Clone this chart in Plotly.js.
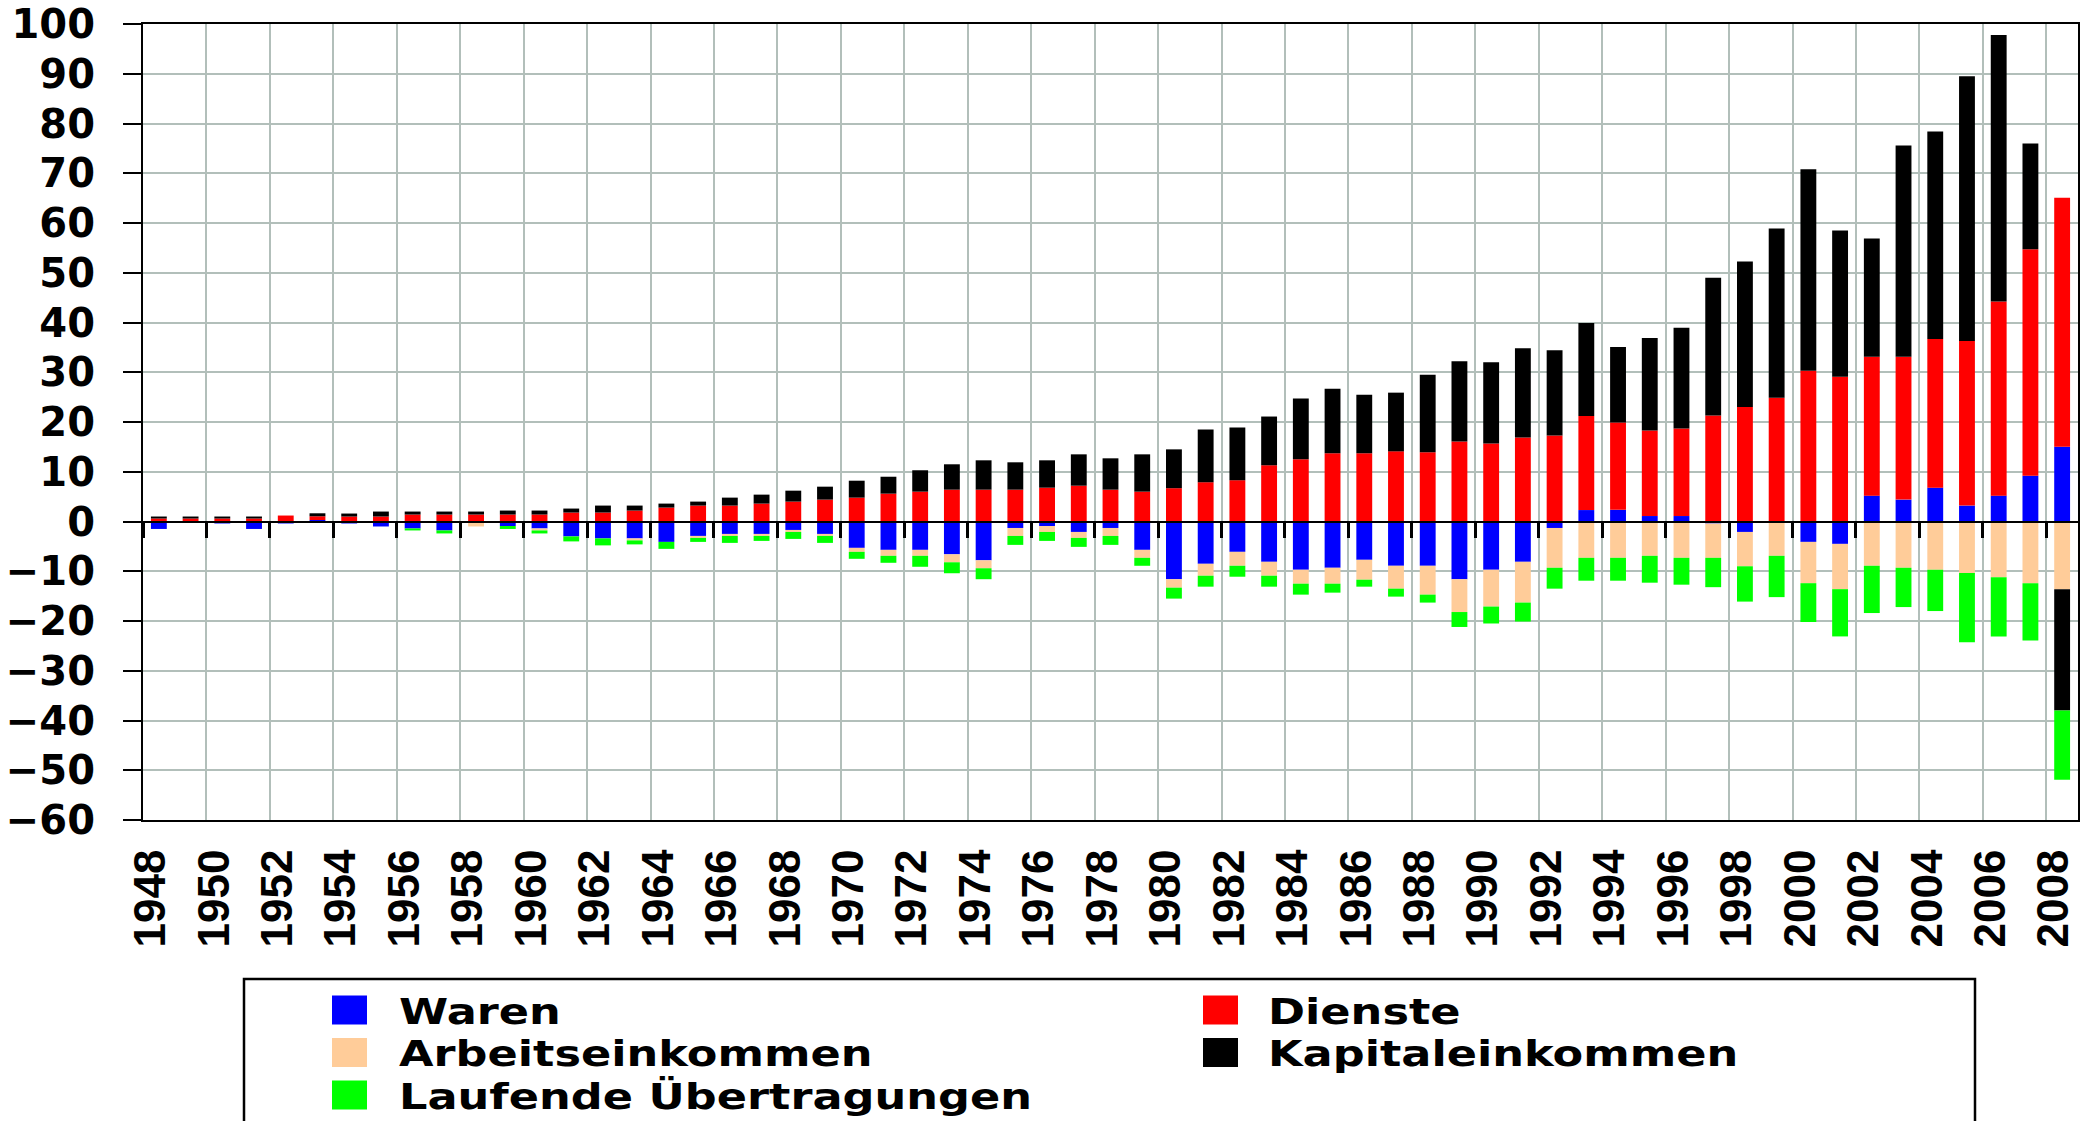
<!DOCTYPE html>
<html>
<head>
<meta charset="utf-8">
<script src="https://cdn.plot.ly/plotly-3.0.1.min.js"></script>
<style>
html,body{margin:0;padding:0;background:#fff;}
text.annotation-text{transform-box:fill-box;transform-origin:center;transform:scaleX(1.24);}
</style>
</head>
<body>
<div id="chart" style="width:2092px;height:1121px;"></div>
<script>
const years = [1948,1949,1950,1951,1952,1953,1954,1955,1956,1957,1958,1959,1960,1961,1962,1963,1964,1965,1966,1967,1968,1969,1970,1971,1972,1973,1974,1975,1976,1977,1978,1979,1980,1981,1982,1983,1984,1985,1986,1987,1988,1989,1990,1991,1992,1993,1994,1995,1996,1997,1998,1999,2000,2001,2002,2003,2004,2005,2006,2007,2008];
const tickYears = [1948,1950,1952,1954,1956,1958,1960,1962,1964,1966,1968,1970,1972,1974,1976,1978,1980,1982,1984,1986,1988,1990,1992,1994,1996,1998,2000,2002,2004,2006,2008];

const waren = [-1.5,0,-0.4,-1.5,-0.4,0.3,-0.4,-1.0,-1.4,-1.8,0,-0.9,-1.4,-3.0,-3.4,-3.4,-4.1,-2.9,-2.5,-2.5,-1.7,-2.5,-5.3,-5.7,-5.7,-6.6,-7.8,-1.3,-0.9,-2.1,-1.3,-5.7,-11.6,-8.5,-6.1,-8.1,-9.7,-9.3,-7.7,-8.9,-8.9,-11.6,-9.7,-8.1,-1.3,2.3,2.35,1.1,1.1,-0.4,-2.1,0,-4.1,-4.5,5.2,4.4,6.8,3.2,5.2,9.2,15.05];
const dienste = [0.6,0.6,0.6,0.6,1.2,0.75,1.0,1.0,1.4,1.4,1.4,1.4,1.4,1.8,1.8,2.2,2.8,3.2,3.2,3.6,4.0,4.4,4.8,5.6,6.0,6.4,6.4,6.4,6.8,7.2,6.4,6.0,6.7,7.9,8.3,11.3,12.5,13.7,13.7,14.1,13.9,16.1,15.7,16.9,17.3,18.9,17.55,17.2,17.6,21.3,23.0,24.85,30.3,29.1,27.9,28.7,29.9,33.1,39.0,45.5,50.05];
const arbeit = [0,0,0,0,0,0,0,0,0,0,-1.0,0,-0.4,0,0,-0.4,0,-0.4,-0.4,-0.4,-0.4,-0.4,-0.8,-1.2,-1.2,-1.6,-1.6,-1.6,-1.2,-1.2,-1.6,-1.6,-1.7,-2.4,-2.8,-2.8,-2.8,-3.2,-4.0,-4.6,-5.8,-6.6,-7.4,-8.2,-8.0,-7.3,-7.3,-6.9,-7.3,-6.9,-6.9,-6.9,-8.3,-9.1,-8.9,-9.3,-9.7,-10.35,-11.2,-12.4,-13.6];
const kapital = [0.4,0.4,0.4,0.4,0,0.6,0.6,1.0,0.6,0.6,0.6,0.8,0.8,0.8,1.4,1.0,0.8,0.8,1.6,1.8,2.2,2.6,3.4,3.4,4.3,5.1,5.9,5.5,5.5,6.3,6.3,7.5,7.8,10.6,10.6,9.8,12.2,13.0,11.8,11.8,15.6,16.1,16.3,17.9,17.1,18.7,15.2,18.6,20.25,27.7,29.25,34.05,40.5,29.4,23.8,42.5,41.7,53.2,53.6,21.3,-24.4];
const laufend = [0,0,0,0,0,0,0,0,-0.4,-0.6,0,-0.6,-0.6,-1.0,-1.4,-0.8,-1.4,-0.8,-1.4,-1.0,-1.4,-1.4,-1.4,-1.4,-2.2,-2.2,-2.2,-1.8,-1.8,-1.8,-1.8,-1.6,-2.2,-2.2,-2.2,-2.2,-2.2,-1.8,-1.4,-1.6,-1.6,-3.0,-3.4,-3.8,-4.2,-4.6,-4.6,-5.4,-5.4,-5.9,-7.1,-8.3,-7.8,-9.5,-9.5,-7.9,-8.3,-13.9,-11.9,-11.5,-13.9];

const seriesNames = ["Waren","Dienste","Arbeitseinkommen","Kapitaleinkommen","Laufende Übertragungen"];
const seriesValues = [waren, dienste, arbeit, kapital, laufend];
const seriesColors = ["#0000FF","#FF0000","#FFCC99","#000000","#00FF00"];

// plot area geometry (pixels)
const W = 2092, H = 1121;
const PL = 143, PR = 2078, PT = 24, PB = 820;
const px = v => (v - PL) / (PR - PL);
const py = v => (PB - v) / (PB - PT);

const traces = seriesNames.map((n, i) => ({
  type: 'bar', name: n, x: years, y: seriesValues[i],
  marker: {color: seriesColors[i], line: {width: 0}},
  width: 0.5, showlegend: false,
  hovertemplate: '%{x}: %{y}<extra>' + n + '</extra>'
}));
// helper trace so the grid / zero axis exists
traces.push({type: 'scatter', mode: 'markers', x: [years[0], years[years.length-1]], y: [0, 0],
  xaxis: 'x2', yaxis: 'y', marker: {opacity: 0}, hoverinfo: 'skip', showlegend: false});

const grid = '#B2BFBA';
const shapes = [];
const annotations = [];
// legend box
shapes.push({type: 'rect', xref: 'paper', yref: 'paper', x0: px(244), x1: px(1975), y0: py(979), y1: py(1135),
  line: {color: '#000', width: 2.5}, fillcolor: 'rgba(0,0,0,0)', layer: 'above'});
const colSym = [332, 1203], colTxt = [397, 1266], rowY = [1010, 1052.5, 1095];
seriesNames.forEach((n, i) => {
  const r = Math.floor(i / 2), c = i % 2;
  shapes.push({type: 'rect', xref: 'paper', yref: 'paper',
    x0: px(colSym[c]), x1: px(colSym[c] + 35), y0: py(rowY[r] - 14.5), y1: py(rowY[r] + 14.5),
    line: {width: 0}, fillcolor: seriesColors[i], layer: 'above'});
  annotations.push({xref: 'paper', yref: 'paper', x: px(colTxt[c]), y: py(rowY[r] + 1),
    xanchor: 'left', yanchor: 'middle', showarrow: false, text: n,
    font: {family: 'DejaVu Sans', size: 36, color: '#000', weight: 'bold'}});
});

const layout = {
  width: W, height: H,
  margin: {l: PL, r: W - PR, t: PT, b: H - PB, pad: 0},
  paper_bgcolor: '#fff', plot_bgcolor: '#fff',
  barmode: 'relative',
  xaxis: {
    type: 'linear', range: [1947.5, 2008.5], fixedrange: true,
    tickmode: 'array', tickvals: tickYears, ticktext: tickYears.map(String),
    tickangle: -90, ticks: '', showgrid: false, zeroline: false,
    showline: true, mirror: true, linecolor: '#000', linewidth: 2,
    tickfont: {family: 'Liberation Sans', size: 44, color: '#000', weight: 'bold'},
    ticklabelstandoff: 10, ticklabelshift: -8
  },
  xaxis2: {
    overlaying: 'x', matches: 'x', anchor: 'free', position: 0.375,
    tickmode: 'linear', tick0: 1949.5, dtick: 2,
    showgrid: true, gridcolor: grid, gridwidth: 2,
    showticklabels: false, ticks: 'outside', ticklen: 15, tickwidth: 3, tickcolor: '#000',
    showline: true, linecolor: '#000', linewidth: 2, zeroline: false
  },
  yaxis: {
    range: [-60, 100], tick0: 0, dtick: 10, fixedrange: true,
    showgrid: true, gridcolor: grid, gridwidth: 2,
    zeroline: false,
    showline: true, mirror: true, linecolor: '#000', linewidth: 2,
    ticks: 'outside', ticklen: 18, tickwidth: 2, tickcolor: '#000',
    tickfont: {family: 'DejaVu Sans', size: 40, color: '#000', weight: 'bold'},
    ticklabelstandoff: 20
  },
  shapes: shapes,
  annotations: annotations
};

Plotly.newPlot('chart', traces, layout, {displayModeBar: false, staticPlot: true});
</script>
</body>
</html>
